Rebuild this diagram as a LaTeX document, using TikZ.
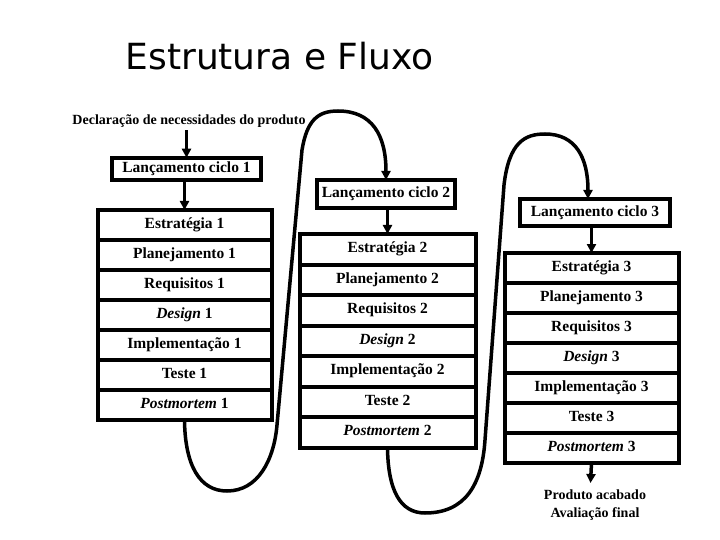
\documentclass[tikz,border=0pt]{standalone}
\usepackage{fontspec}
\setmainfont{Liberation Serif}
\newfontfamily\titlefont{DejaVu Sans}
\usetikzlibrary{arrows.meta}
\tikzset{ciclo/.style={draw,line width=4pt,outer sep=0pt,minimum height=22.5pt,inner sep=2pt,
    font=\fontsize{15.5}{18}\selectfont\bfseries},
  etapa/.style={outer sep=0pt,minimum width=#1,minimum height=30pt,inner sep=0pt,
    text height=10.5pt,text depth=3.5pt,font=\fontsize{15.5}{18}\selectfont\bfseries},
  quadro/.style={line width=4pt},
  seta/.style={-{Triangle[length=9pt,width=9pt]},line width=3.5pt},
  nota/.style={font=\fontsize{14}{18}\selectfont\bfseries,align=center}}

\begin{document}
\begin{tikzpicture}[x=1pt,y=-1pt]
\useasboundingbox (0,0) rectangle (720,540);
\node[font=\titlefont\fontsize{36}{40}\selectfont,anchor=base] (titulo) at (279.5,70) {Estrutura e Fluxo};
\node[nota,anchor=base,inner sep=2pt] (decl) at (189,125) {Declaração de necessidades do produto};
% ciclo 1
\node[ciclo,minimum width=149pt] (c1) at (186.5,169) {Lançamento ciclo 1};
\node[etapa=174pt] (p11) at (184.5,225) {Estratégia 1};
\node[etapa=174pt] (p12) at (184.5,255) {Planejamento 1};
\node[etapa=174pt] (p13) at (184.5,285) {Requisitos 1};
\node[etapa=174pt] (p14) at (184.5,315) {\itshape Design\upshape{} 1};
\node[etapa=174pt] (p15) at (184.5,345) {Implementação 1};
\node[etapa=174pt] (p16) at (184.5,375) {Teste 1};
\node[etapa=174pt] (p17) at (184.5,405) {\itshape Postmortem\upshape{} 1};
% ciclo 2
\node[ciclo,minimum width=138pt,minimum height=28pt] (c2) at (386,194) {Lançamento ciclo 2};
\node[etapa=176pt,minimum height=30.5pt] (p21) at (387.5,249.25) {Estratégia 2};
\node[etapa=176pt,minimum height=30.5pt] (p22) at (387.5,279.75) {Planejamento 2};
\node[etapa=176pt,minimum height=30.5pt] (p23) at (387.5,310.25) {Requisitos 2};
\node[etapa=176pt,minimum height=30.5pt] (p24) at (387.5,340.75) {\itshape Design\upshape{} 2};
\node[etapa=176pt,minimum height=30.5pt] (p25) at (387.5,371.25) {Implementação 2};
\node[etapa=176pt,minimum height=30.5pt] (p26) at (387.5,401.75) {Teste 2};
\node[etapa=176pt,minimum height=30.5pt] (p27) at (387.5,432.25) {\itshape Postmortem\upshape{} 2};
% ciclo 3
\node[ciclo,minimum width=150pt,minimum height=27pt] (c3) at (595,212.5) {Lançamento ciclo 3};
\node[etapa=174pt] (p31) at (591.5,268) {Estratégia 3};
\node[etapa=174pt] (p32) at (591.5,298) {Planejamento 3};
\node[etapa=174pt] (p33) at (591.5,328) {Requisitos 3};
\node[etapa=174pt] (p34) at (591.5,358) {\itshape Design\upshape{} 3};
\node[etapa=174pt] (p35) at (591.5,388) {Implementação 3};
\node[etapa=174pt] (p36) at (591.5,418) {Teste 3};
\node[etapa=174pt] (p37) at (591.5,448) {\itshape Postmortem\upshape{} 3};
\node[nota,anchor=north,inner sep=0pt] (fim) at (595,490) {Produto acabado\\Avaliação final};
\coordinate (fimseta) at (590.5,483);
% quadros das etapas
\draw[quadro] (p11.north west) rectangle (p17.south east);
\draw[quadro] (p21.north west) rectangle (p27.south east);
\draw[quadro] (p31.north west) rectangle (p37.south east);
\foreach \n in {p11,p12,p13,p14,p15,p16,p21,p22,p23,p24,p25,p26,p31,p32,p33,p34,p35,p36}
  \draw[quadro] (\n.south west) -- (\n.south east);
% setas
\draw[seta] (decl.south -| c1.north) -- (c1.north);
\draw[seta] (c1.south -| p11.north) -- (p11.north);
\draw[seta] (c2.south -| p21.north) -- (p21.north);
\draw[seta] (c3.south -| p31.north) -- (p31.north);
\draw[seta] (p37.south) -- (fimseta);
\draw[seta] (p17.south) .. controls (185,466) and (200,491) .. (227,491)
  .. controls (258,491) and (274,460) .. (277,425) -- (302,150)
  .. controls (307,120) and (318,111) .. (338,111)
  .. controls (372,111) and (386,135) .. (c2.north);
\draw[seta] (p27.south) .. controls (388,490) and (400,513) .. (425,513)
  .. controls (465,513) and (482,485) .. (485,440) -- (504,185)
  .. controls (509,142) and (525,134) .. (545,134)
  .. controls (576,134) and (588,158) .. ([xshift=-7pt]c3.north);
\end{tikzpicture}
\end{document}
